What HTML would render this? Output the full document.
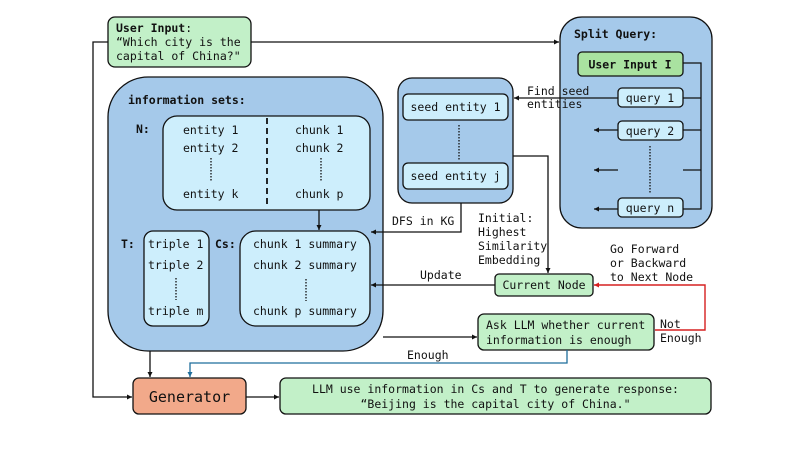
<!DOCTYPE html>
<html><head><meta charset="utf-8"><style>
body{margin:0;background:#fff}
svg text{font-family:"DejaVu Sans Mono","Liberation Mono",monospace;font-size:11.5px;fill:#111}
.b{font-weight:bold}
</style></head><body>
<svg width="793" height="446" viewBox="0 0 793 446" xmlns="http://www.w3.org/2000/svg">
<defs>
<marker id="a" markerWidth="6" markerHeight="6" refX="5" refY="3" orient="auto" markerUnits="userSpaceOnUse"><path d="M0,0.5 L5,3 L0,5.5z" fill="#111"/></marker>
<marker id="ar" markerWidth="6" markerHeight="6" refX="5" refY="3" orient="auto" markerUnits="userSpaceOnUse"><path d="M0,0.5 L5,3 L0,5.5z" fill="#d62020"/></marker>
<marker id="ab" markerWidth="6" markerHeight="6" refX="5" refY="3" orient="auto" markerUnits="userSpaceOnUse"><path d="M0,0.5 L5,3 L0,5.5z" fill="#1f6e9c"/></marker>
</defs>

<rect x="108" y="17" width="143" height="50" rx="7" fill="#c2f0c8" stroke="#111" stroke-width="1.3"/>
<text x="116" y="32"><tspan class="b">User Input</tspan>:</text>
<text x="116" y="46">“Which city is the</text>
<text x="116" y="60">capital of China?"</text>

<rect x="560" y="17" width="152" height="211" rx="22" fill="#a5c9ea" stroke="#111" stroke-width="1.3"/>
<text x="574" y="38" class="b">Split Query:</text>
<rect x="578" y="52" width="105" height="24" rx="4" fill="#a9e2a0" stroke="#111" stroke-width="1.3"/>
<text x="630" y="68.5" text-anchor="middle" class="b">User Input I</text>
<g fill="#cdeefc" stroke="#111" stroke-width="1.3">
<rect x="618" y="88" width="65" height="19" rx="4"/>
<rect x="618" y="121" width="65" height="19" rx="4"/>
<rect x="618" y="198" width="65" height="19" rx="4"/>
</g>
<text x="650" y="102" text-anchor="middle">query 1</text>
<text x="650" y="135" text-anchor="middle">query 2</text>
<text x="650" y="212" text-anchor="middle">query n</text>
<text x="527" y="95">Find seed</text>
<text x="527" y="108">entities</text>

<rect x="398" y="78" width="115" height="125" rx="14" fill="#a5c9ea" stroke="#111" stroke-width="1.3"/>
<rect x="403" y="94" width="105" height="26" rx="5" fill="#cdeefc" stroke="#111" stroke-width="1.3"/>
<rect x="403" y="163" width="105" height="26" rx="5" fill="#cdeefc" stroke="#111" stroke-width="1.3"/>
<text x="455.5" y="111" text-anchor="middle">seed entity 1</text>
<text x="455.5" y="180" text-anchor="middle">seed entity j</text>
<text x="392" y="225">DFS in KG</text>
<text x="478" y="222">Initial:</text>
<text x="478" y="236">Highest</text>
<text x="478" y="250">Similarity</text>
<text x="478" y="264">Embedding</text>
<text x="420" y="279">Update</text>
<text x="610" y="253">Go Forward</text>
<text x="610" y="267">or Backward</text>
<text x="610" y="281">to Next Node</text>
<text x="660" y="328">Not</text>
<text x="660" y="342">Enough</text>
<text x="407" y="359">Enough</text>

<rect x="495" y="274" width="98" height="22" rx="4" fill="#c2f0c8" stroke="#111" stroke-width="1.3"/>
<text x="544" y="289" text-anchor="middle">Current Node</text>
<rect x="478" y="314" width="176" height="36" rx="6" fill="#c2f0c8" stroke="#111" stroke-width="1.3"/>
<text x="486" y="329">Ask LLM whether current</text>
<text x="486" y="344">information is enough</text>

<rect x="108" y="77" width="275" height="274" rx="40" fill="#a5c9ea" stroke="#111" stroke-width="1.3"/>
<text x="128" y="104" class="b">information sets:</text>
<text x="136" y="133" class="b">N:</text>
<rect x="163" y="116" width="207" height="94" rx="14" fill="#cdeefc" stroke="#111" stroke-width="1.3"/>
<path d="M267,118 V208" stroke="#111" stroke-width="1.8" stroke-dasharray="6,4" fill="none"/>
<text x="183" y="134">entity 1</text>
<text x="183" y="152">entity 2</text>
<text x="183" y="198">entity k</text>
<text x="295" y="134">chunk 1</text>
<text x="295" y="152">chunk 2</text>
<text x="295" y="198">chunk p</text>
<text x="121" y="248" class="b">T:</text>
<rect x="144" y="231" width="65" height="95" rx="9" fill="#cdeefc" stroke="#111" stroke-width="1.3"/>
<text x="148" y="248">triple 1</text>
<text x="148" y="269">triple 2</text>
<text x="148" y="315">triple m</text>
<path d="M176,278 V300" stroke="#111" stroke-width="1.3" stroke-dasharray="1.5,1.5"/>
<text x="215" y="248" class="b">Cs:</text>
<rect x="240" y="231" width="130" height="95" rx="16" fill="#cdeefc" stroke="#111" stroke-width="1.3"/>
<text x="253" y="248">chunk 1 summary</text>
<text x="253" y="269">chunk 2 summary</text>
<text x="253" y="315">chunk p summary</text>
<path d="M306,279 V301" stroke="#111" stroke-width="1.3" stroke-dasharray="1.5,1.5"/>

<rect x="133" y="378" width="113" height="36" rx="6" fill="#f2a98a" stroke="#111" stroke-width="1.3"/>
<text x="189.5" y="402" text-anchor="middle" style="font-size:15px">Generator</text>
<rect x="280" y="378" width="431" height="36" rx="6" fill="#c2f0c8" stroke="#111" stroke-width="1.3"/>
<text x="495.5" y="393" text-anchor="middle">LLM use information in Cs and T to generate response:</text>
<text x="495.5" y="408" text-anchor="middle">“Beijing is the capital city of China."</text>

<g fill="none" stroke="#111" stroke-width="1.3">
<path d="M251,42 H559" marker-end="url(#a)"/>
<path d="M108,42 H93 V397 H132" marker-end="url(#a)"/>
<path d="M683,63 H701 V209 H683"/>
<path d="M683,98 H701 M683,130 H701 M683,170 H701"/>
<path d="M618,130 H594" marker-end="url(#a)"/>
<path d="M618,170 H594" marker-end="url(#a)"/>
<path d="M618,209 H594" marker-end="url(#a)"/>
<path d="M650,146 V193" stroke-dasharray="1.5,1.5"/>
<path d="M618,98 H514" marker-end="url(#a)"/>
<path d="M459,125 V160" stroke-dasharray="1.5,1.5"/>
<path d="M513,156 H548 V273" marker-end="url(#a)"/>
<path d="M461,203 V232 H371" marker-end="url(#a)"/>
<path d="M495,285 H371" marker-end="url(#a)"/>
<path d="M383,337 H477" marker-end="url(#a)"/>
<path d="M150,351 V377" marker-end="url(#a)"/>
<path d="M246,397 H279" marker-end="url(#a)"/>
<path d="M211,158 V181" stroke-dasharray="1.5,1.5"/>
<path d="M321,158 V181" stroke-dasharray="1.5,1.5"/>
<path d="M319,210 V230" marker-end="url(#a)"/>
</g>
<path d="M655,330 H705 V285 H594" fill="none" stroke="#d62020" stroke-width="1.4" marker-end="url(#ar)"/>
<path d="M567,350 V363 H190 V377" fill="none" stroke="#1f6e9c" stroke-width="1.3" marker-end="url(#ab)"/>
</svg>
</body></html>
